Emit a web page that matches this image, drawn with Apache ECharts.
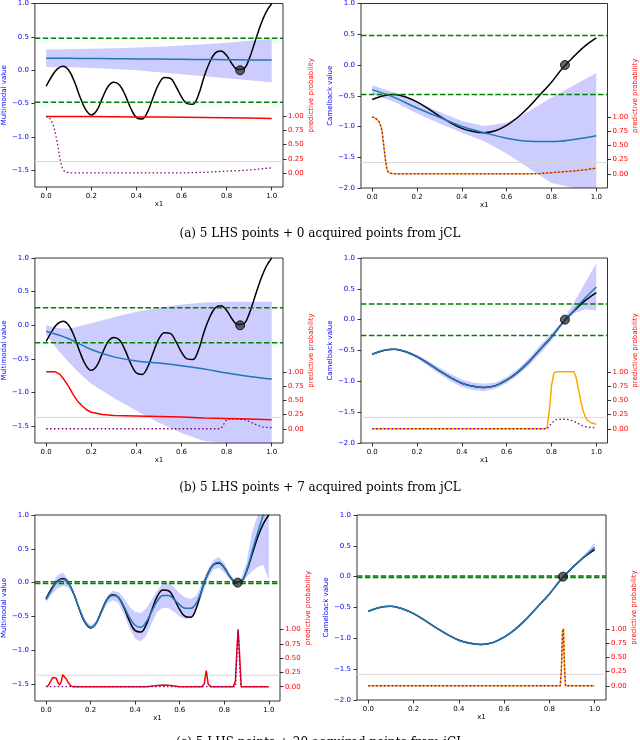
<!DOCTYPE html>
<html><head><meta charset="utf-8">
<script src="https://cdn.jsdelivr.net/npm/echarts@6/dist/echarts.min.js"></script>
<style>html,body{margin:0;padding:0;background:#fff}#c{width:640px;height:740px}</style>
</head><body><div id="c"></div>
<script>
// ---------- shared x grids ----------
const x41 = [0,0.025,0.05,0.075,0.1,0.125,0.15,0.175,0.2,0.225,0.25,0.275,0.3,0.325,0.35,0.375,0.4,0.425,0.45,0.475,0.5,0.525,0.55,0.575,0.6,0.625,0.65,0.675,0.7,0.725,0.75,0.775,0.8,0.825,0.85,0.875,0.9,0.925,0.95,0.975,1];
const x21 = [0,0.05,0.1,0.15,0.2,0.25,0.3,0.35,0.4,0.45,0.5,0.55,0.6,0.65,0.7,0.75,0.8,0.85,0.9,0.95,1];
const x11 = [0,0.1,0.2,0.3,0.4,0.5,0.6,0.7,0.8,0.9,1];

// ---------- tick labels ----------
const xTicks = [0,0.2,0.4,0.6,0.8,1.0];
const mmTicks = [-1.5,-1.0,-0.5,0,0.5,1.0];
const cbTicks = [-2.0,-1.5,-1.0,-0.5,0,0.5,1.0];
const probTicks = [0,0.25,0.5,0.75,1.0];

// ---------- true functions ----------
const multimodalTrue = [-0.24,-0.09,0.02,0.06,0.00,-0.17,-0.40,-0.59,-0.67,-0.60,-0.41,-0.24,-0.18,-0.22,-0.37,-0.57,-0.71,-0.73,-0.62,-0.40,-0.20,-0.11,-0.12,-0.24,-0.40,-0.50,-0.51,-0.37,-0.10,0.12,0.26,0.29,0.22,0.09,0.01,0.02,0.17,0.42,0.67,0.87,1.00];
const camelbackTrue = [-0.56,-0.50,-0.48,-0.52,-0.60,-0.71,-0.83,-0.94,-1.03,-1.08,-1.10,-1.07,-0.98,-0.85,-0.68,-0.48,-0.28,-0.05,0.14,0.31,0.44];
const samplePoint = [0.86, 0.0];
const probLevel = 0.2;

// ---------- (a) ----------
const aThreshold = 0.48;
const aMmMean = [0.18,0.178,0.175,0.173,0.17,0.167,0.164,0.161,0.158,0.155,0.152];
const aMmLow  = [0.05,0.045,0.035,0.02,0.0,-0.03,-0.06,-0.09,-0.12,-0.15,-0.18];
const aMmHigh = [0.31,0.315,0.32,0.33,0.34,0.35,0.37,0.39,0.41,0.44,0.47];
const aMmRed = [1.0,1.0,1.0,0.995,0.99,0.99,0.985,0.98,0.975,0.97,0.965];
const aMmPurpleX = [0,0.01,0.02,0.03,0.04,0.05,0.06,0.07,0.08,0.1,0.2,0.3,0.4,0.5,0.6,0.7,0.8,0.9,1.0];
const aMmPurple  = [1.0,0.99,0.95,0.86,0.72,0.52,0.28,0.1,0.03,0.0,0,0,0,0,0,0.01,0.03,0.05,0.09];
const aCbMean = [-0.40,-0.53,-0.70,-0.85,-1.00,-1.10,-1.19,-1.24,-1.245,-1.21,-1.15];
const aCbLow  = [-0.47,-0.60,-0.79,-0.95,-1.10,-1.24,-1.44,-1.68,-1.92,-2.12,-2.35];
const aCbHigh = [-0.33,-0.45,-0.60,-0.76,-0.91,-0.99,-0.94,-0.75,-0.53,-0.33,-0.13];
const aCbProbX = [0,0.01,0.02,0.03,0.04,0.045,0.05,0.055,0.06,0.065,0.07,0.08,0.1,0.3,0.5,0.7,0.75,0.8,0.85,0.9,0.95,1.0];
const aCbProb  = [1.0,0.99,0.96,0.92,0.82,0.72,0.55,0.38,0.22,0.1,0.04,0.01,0.0,0,0,0,0.005,0.02,0.035,0.05,0.07,0.1];

// ---------- (b) ----------
const bMmThreshold = 0.26;
const bCbThreshold = 0.255;
const bMmMean = [-0.09,-0.20,-0.36,-0.47,-0.53,-0.56,-0.60,-0.65,-0.71,-0.76,-0.80];
const bMmBandX = [0,0.05,0.1,0.15,0.2,0.3,0.4,0.5,0.6,0.7,0.8,0.9,1.0];
const bMmLow  = [-0.14,-0.36,-0.55,-0.72,-0.87,-1.08,-1.27,-1.45,-1.60,-1.72,-1.85,-1.95,-2.05];
const bMmHigh = [0.0,-0.04,-0.05,-0.01,0.03,0.12,0.20,0.26,0.31,0.34,0.35,0.35,0.35];
const bMmRedX = [0,0.02,0.04,0.06,0.08,0.1,0.12,0.14,0.16,0.18,0.2,0.25,0.3,0.4,0.5,0.6,0.7,0.8,0.9,1.0];
const bMmRed  = [1.0,1.0,1.0,0.96,0.86,0.74,0.6,0.48,0.4,0.33,0.29,0.25,0.235,0.225,0.215,0.205,0.19,0.18,0.17,0.16];
const bMmPurpleX = [0,0.77,0.78,0.79,0.8,0.82,0.85,0.88,0.9,0.92,0.94,0.96,1.0];
const bMmPurple  = [0,0,0.03,0.1,0.16,0.17,0.17,0.16,0.13,0.09,0.06,0.03,0.02];
const bCbMean = [-0.56,-0.50,-0.48,-0.52,-0.60,-0.71,-0.83,-0.94,-1.03,-1.08,-1.10,-1.07,-0.98,-0.85,-0.68,-0.48,-0.28,-0.05,0.15,0.35,0.53];
const bCbLow  = [-0.57,-0.51,-0.49,-0.54,-0.63,-0.75,-0.88,-1.00,-1.09,-1.14,-1.16,-1.12,-1.03,-0.90,-0.74,-0.55,-0.34,-0.07,0.10,0.17,0.15];
const bCbHigh = [-0.55,-0.49,-0.47,-0.50,-0.57,-0.67,-0.78,-0.88,-0.97,-1.02,-1.04,-1.02,-0.93,-0.80,-0.62,-0.41,-0.22,-0.03,0.28,0.60,0.91];
const bCbOrangeX = [0,0.77,0.78,0.79,0.8,0.81,0.82,0.85,0.88,0.9,0.91,0.92,0.93,0.94,0.95,0.96,0.97,0.98,1.0];
const bCbOrange  = [0,0,0.02,0.3,0.75,0.97,1.0,1.0,1.0,1.0,0.9,0.7,0.5,0.33,0.22,0.15,0.12,0.1,0.08];
const bCbPurpleX = [0,0.78,0.79,0.8,0.82,0.85,0.88,0.9,0.92,0.94,0.96,0.98,1.0];
const bCbPurple  = [0,0,0.04,0.1,0.16,0.17,0.16,0.13,0.09,0.05,0.03,0.02,0.02];

// ---------- (c) ----------
const cThreshold = 0.012;
const cMmMean = [-0.25,-0.11,0.01,0.05,-0.01,-0.17,-0.39,-0.58,-0.66,-0.60,-0.42,-0.25,-0.19,-0.22,-0.35,-0.52,-0.63,-0.66,-0.58,-0.42,-0.27,-0.19,-0.19,-0.25,-0.33,-0.38,-0.38,-0.30,-0.10,0.12,0.26,0.30,0.22,0.09,0.01,0.02,0.18,0.46,0.74,1.00,1.25];
const cMmLow  = [-0.29,-0.18,-0.09,-0.05,-0.07,-0.20,-0.42,-0.61,-0.69,-0.63,-0.46,-0.31,-0.26,-0.30,-0.47,-0.68,-0.83,-0.87,-0.78,-0.59,-0.43,-0.37,-0.38,-0.43,-0.50,-0.54,-0.52,-0.41,-0.19,0.05,0.19,0.22,0.15,0.05,0.0,-0.02,0.08,0.17,0.23,0.26,0.03];
const cMmHigh = [-0.21,-0.04,0.11,0.15,0.05,-0.14,-0.36,-0.55,-0.63,-0.57,-0.38,-0.19,-0.12,-0.14,-0.23,-0.36,-0.43,-0.45,-0.38,-0.25,-0.11,-0.01,0.00,-0.07,-0.16,-0.22,-0.24,-0.19,-0.01,0.19,0.33,0.38,0.29,0.13,0.02,0.06,0.30,0.75,1.25,1.7,2.5];
const cMmRedX = [0,0.01,0.02,0.03,0.037,0.045,0.052,0.06,0.064,0.068,0.075,0.082,0.09,0.1,0.11,0.12,0.45,0.5,0.527,0.56,0.6,0.7,0.71,0.719,0.728,0.74,0.84,0.85,0.856,0.862,0.868,0.876,0.9,1.0];
const cMmRed  = [0,0.02,0.09,0.16,0.17,0.15,0.09,0.03,0.02,0.08,0.21,0.2,0.14,0.07,0.02,0,0,0.02,0.03,0.02,0,0,0.05,0.28,0.04,0,0,0.1,0.6,1.0,0.6,0,0,0];
const cMmPurpleX = [0,0.85,0.856,0.862,0.868,0.874,1.0];
const cMmPurple  = [0,0,0.5,1.0,0.5,0,0];
const cCbMean = [-0.56,-0.50,-0.48,-0.52,-0.60,-0.71,-0.83,-0.94,-1.03,-1.08,-1.10,-1.07,-0.98,-0.85,-0.68,-0.48,-0.28,-0.05,0.14,0.31,0.47];
const cCbLow  = [-0.565,-0.505,-0.485,-0.53,-0.61,-0.72,-0.845,-0.955,-1.045,-1.095,-1.115,-1.085,-0.99,-0.86,-0.69,-0.49,-0.29,-0.055,0.13,0.29,0.42];
const cCbHigh = [-0.555,-0.495,-0.475,-0.51,-0.59,-0.70,-0.815,-0.925,-1.015,-1.065,-1.085,-1.055,-0.97,-0.84,-0.67,-0.47,-0.27,-0.045,0.15,0.34,0.55];
const cCbProbX = [0,0.848,0.853,0.858,0.862,0.866,0.871,1.0];
const cCbProb  = [0,0,0.3,0.95,1.0,0.4,0,0];

// ---------- captions ----------
const captions = [
  '(a) 5 LHS points + 0 acquired points from jCL',
  '(b) 5 LHS points + 7 acquired points from jCL',
  '(c) 5 LHS points + 20 acquired points from jCL'
];

const FONT = 'DejaVu Sans';
const zip = (xs, ys) => xs.map((x, k) => [x, ys[k]]);
const fmt1 = v => (v < 0 ? '\u2212' : '') + Math.abs(v).toFixed(1);
const fmt2 = v => (v < 0 ? '\u2212' : '') + Math.abs(v).toFixed(2);

const grids = [], xAxes = [], yAxes = [], series = [];

function bandSeries(i, yl, xs, low, high, yMin, yMax) {
  const clampY = v => Math.max(yMin, Math.min(yMax, v));
  return {
    type: 'custom', xAxisIndex: i, yAxisIndex: yl, silent: true, clip: true, z: 1,
    data: xs.map((x, k) => [x, low[k], high[k]]),
    encode: {x: 0, y: [1, 2]},
    renderItem: function (params, api) {
      if (params.dataIndex !== 0) return null;
      const pts = [];
      for (let k = 0; k < xs.length; k++) pts.push(api.coord([xs[k], clampY(high[k])]));
      for (let k = xs.length - 1; k >= 0; k--) pts.push(api.coord([xs[k], clampY(low[k])]));
      const cs = params.coordSys;
      return {
        type: 'polygon', shape: {points: pts},
        style: {fill: 'rgba(0,0,255,0.2)', stroke: null},
        clipPath: {type: 'rect', shape: {x: cs.x, y: cs.y, width: cs.width, height: cs.height}}
      };
    }
  };
}

function panel(i, rect, p) {
  grids.push(Object.assign({show: true, borderColor: '#000', borderWidth: 0.8, backgroundColor: 'transparent', containLabel: false}, rect));
  const tick = {length: 3.5, lineStyle: {color: '#000', width: 0.8}};
  xAxes.push({
    gridIndex: i, type: 'value', min: -0.05, max: 1.05,
    name: 'x1', nameLocation: 'middle', nameGap: 14,
    nameTextStyle: {fontSize: 7, color: '#000', fontFamily: FONT},
    axisLine: {show: false, onZero: false}, splitLine: {show: false},
    axisTick: Object.assign({customValues: xTicks}, tick),
    axisLabel: {customValues: xTicks, formatter: v => v.toFixed(1), fontSize: 7, color: '#000', margin: 6, fontFamily: FONT}
  });
  yAxes.push({
    gridIndex: i, type: 'value', position: 'left', min: p.yMin, max: 1.0,
    name: p.yName, nameLocation: 'middle', nameGap: 20, nameRotate: 90,
    nameTextStyle: {fontSize: 7, color: 'blue', fontFamily: FONT},
    axisLine: {show: false, onZero: false}, splitLine: {show: false},
    axisTick: Object.assign({customValues: p.yTicks}, tick),
    axisLabel: {customValues: p.yTicks, formatter: fmt1, fontSize: 7, color: 'blue', margin: 6, fontFamily: FONT}
  });
  yAxes.push({
    gridIndex: i, type: 'value', position: 'right', min: -0.25, max: 3.0,
    name: 'predictive probability', nameLocation: 'middle', nameGap: 22, nameRotate: 90,
    nameTextStyle: {fontSize: 7, color: 'red', fontFamily: FONT},
    axisLine: {show: false, onZero: false}, splitLine: {show: false},
    axisTick: Object.assign({customValues: probTicks}, tick),
    axisLabel: {customValues: probTicks, formatter: fmt2, fontSize: 7, color: 'red', margin: 5, fontFamily: FONT}
  });
  const yl = 2 * i, yr = 2 * i + 1;
  const base = {xAxisIndex: i, symbol: 'none', silent: true, animation: false};
  // confidence band
  series.push(bandSeries(i, yl, p.bandX, p.low, p.high, p.yMin, 1.0));
  // true function
  series.push(Object.assign({type: 'line', yAxisIndex: yl, data: zip(p.trueX, p.trueY), lineStyle: {color: '#000', width: 1.5}, smooth: 0.4, z: 2}, base));
  // GP mean
  series.push(Object.assign({type: 'line', yAxisIndex: yl, data: zip(p.meanX, p.mean), lineStyle: {color: '#1f77b4', width: 1.5}, smooth: 0.4, z: 2}, base));
  // thresholds
  [p.thr, -p.thr].forEach(v => series.push(Object.assign({type: 'line', yAxisIndex: yl, data: [[-0.05, v], [1.05, v]],
    lineStyle: {color: '#008000', width: 1.5, type: [5.5, 2.4]}, z: 2}, base)));
  // sample point
  series.push({type: 'scatter', xAxisIndex: i, yAxisIndex: yl, data: [samplePoint], symbolSize: 9, silent: true,
    itemStyle: {color: 'rgba(30,30,30,0.85)', borderColor: '#000', borderWidth: 1}, z: 3});
  // twin axis
  series.push(Object.assign({type: 'line', yAxisIndex: yr, data: [[-0.05, probLevel], [1.05, probLevel]], lineStyle: {color: '#d8d8d8', width: 1}, z: 4}, base));
  series.push(Object.assign({type: 'line', yAxisIndex: yr, data: zip(p.probX, p.prob), lineStyle: {color: p.probColor, width: 1.5}, z: 4}, base));
  series.push(Object.assign({type: 'line', yAxisIndex: yr, data: zip(p.purpleX, p.purple), lineStyle: {color: '#800080', width: 1.3, type: [1.5, 2.4]}, z: 4}, base));
}

panel(0, {left: 34, top: 3, width: 249, height: 184}, {yMin: -1.75, yTicks: mmTicks, yName: 'Multimodal value',
  trueX: x41, trueY: multimodalTrue, meanX: x11, mean: aMmMean, bandX: x11, low: aMmLow, high: aMmHigh, thr: aThreshold,
  probX: x11, prob: aMmRed, probColor: 'red', purpleX: aMmPurpleX, purple: aMmPurple});
panel(1, {left: 361, top: 3, width: 248, height: 185}, {yMin: -2.0, yTicks: cbTicks, yName: 'Camelback value',
  trueX: x21, trueY: camelbackTrue, meanX: x11, mean: aCbMean, bandX: x11, low: aCbLow, high: aCbHigh, thr: aThreshold,
  probX: aCbProbX, prob: aCbProb, probColor: 'orange', purpleX: aCbProbX, purple: aCbProb});
panel(2, {left: 34, top: 258, width: 249, height: 185}, {yMin: -1.75, yTicks: mmTicks, yName: 'Multimodal value',
  trueX: x41, trueY: multimodalTrue, meanX: x11, mean: bMmMean, bandX: bMmBandX, low: bMmLow, high: bMmHigh, thr: bMmThreshold,
  probX: bMmRedX, prob: bMmRed, probColor: 'red', purpleX: bMmPurpleX, purple: bMmPurple});
panel(3, {left: 361, top: 258, width: 248, height: 185}, {yMin: -2.0, yTicks: cbTicks, yName: 'Camelback value',
  trueX: x21, trueY: camelbackTrue, meanX: x21, mean: bCbMean, bandX: x21, low: bCbLow, high: bCbHigh, thr: bCbThreshold,
  probX: bCbOrangeX, prob: bCbOrange, probColor: 'orange', purpleX: bCbPurpleX, purple: bCbPurple});
panel(4, {left: 31, top: 515, width: 249, height: 186}, {yMin: -1.75, yTicks: mmTicks, yName: 'Multimodal value',
  trueX: x41, trueY: multimodalTrue, meanX: x41, mean: cMmMean, bandX: x41, low: cMmLow, high: cMmHigh, thr: cThreshold,
  probX: cMmRedX, prob: cMmRed, probColor: 'red', purpleX: cMmPurpleX, purple: cMmPurple});
panel(5, {left: 357, top: 515, width: 249, height: 185}, {yMin: -2.0, yTicks: cbTicks, yName: 'Camelback value',
  trueX: x21, trueY: camelbackTrue, meanX: x21, mean: cCbMean, bandX: x21, low: cCbLow, high: cCbHigh, thr: cThreshold,
  probX: cCbProbX, prob: cCbProb, probColor: 'orange', purpleX: cCbProbX, purple: cCbProb});

const captionTops = [228, 482, 737];
const chart = echarts.init(document.getElementById('c'), null, {renderer: 'canvas'});
chart.setOption({
  animation: false,
  backgroundColor: '#fff',
  textStyle: {fontFamily: FONT},
  grid: grids, xAxis: xAxes, yAxis: yAxes, series: series,
  graphic: captions.map((t, k) => ({type: 'text', left: 'center', top: captionTops[k],
    style: {text: t, font: '12px "DejaVu Serif"', fill: '#000'}}))
});
</script></body></html>
